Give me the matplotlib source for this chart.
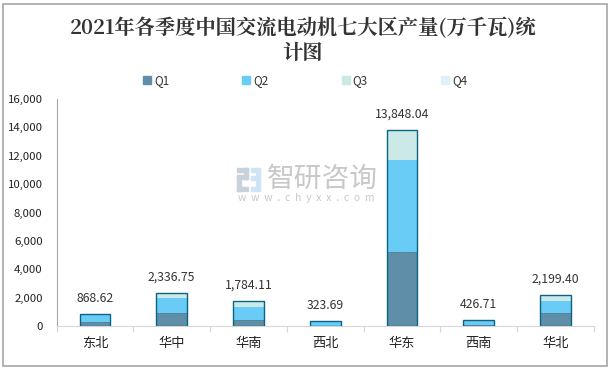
import matplotlib
matplotlib.use('Agg')
import matplotlib.pyplot as plt
from matplotlib.patches import Rectangle

plt.rcParams['font.family'] = ['Noto Sans CJK SC', 'DejaVu Sans']

regions = ['东北', '华中', '华南', '西北', '华东', '西南', '华北']
q1 = [305, 940, 447, 30, 5220, 40, 940]
q2 = [500, 1060, 916, 270, 6480, 340, 823]
q3 = [50, 330, 420, 20, 2100, 40, 430]
totals = [868.62, 2336.75, 1784.11, 323.69, 13848.04, 426.71, 2199.40]
q4 = [t - a - b - c for t, a, b, c in zip(totals, q1, q2, q3)]
yticks = [0, 2000, 4000, 6000, 8000, 10000, 12000, 14000, 16000]
quarters = ['Q1', 'Q2', 'Q3', 'Q4']
colors = ['#5f8fa8', '#69ccf7', '#cbe9e6', '#dff1fb']
W, H = 612, 371


def box(fig, x0, y0, w, h, **kw):
    # rectangle given in image pixels, y measured from the top
    fig.add_artist(Rectangle((x0 / W, 1 - (y0 + h) / H), w / W, h / H, transform=fig.transFigure, **kw))


def main():
    fig = plt.figure(figsize=(W / 100, H / 100), dpi=100)
    ax = fig.add_axes([56.5 / W, 1 - 326 / H, (594 - 56.5) / W, 227 / H])

    x = range(len(regions))
    bottom = [0] * len(regions)
    for vals, c in zip([q1, q2, q3, q4], colors):
        ax.bar(x, vals, 0.4, bottom=bottom, color=c, linewidth=0, zorder=2)
        bottom = [b + v for b, v in zip(bottom, vals)]
    ax.bar(x, q1, 0.4, fill=False, edgecolor='#4a7187', linewidth=0.6, linestyle=':', zorder=2.5)
    ax.bar(x, totals, 0.4, fill=False, edgecolor='#0b6384', linewidth=1.0, zorder=3)

    for i, t in enumerate(totals):
        ax.annotate(f'{t:,.2f}', (i, t), xytext=(0, 9), textcoords='offset pixels',
                    ha='center', va='bottom', fontsize=8.8, color='#333333')

    ax.set_xlim(-0.5, 6.5)
    ax.set_ylim(0, 16000)
    ax.set_yticks(yticks)
    ax.set_yticklabels([f'{v:,}' for v in yticks], fontsize=8.2, color='#222222')
    ax.set_xticks([i - 0.5 for i in range(8)], minor=False)
    ax.set_xticklabels([])
    ax.set_xticks(list(x), minor=True)
    ax.set_xticklabels(regions, minor=True, fontsize=9.5, color='#222222')
    ax.tick_params(axis='x', which='major', length=4, color='#d6d6d6', direction='out')
    ax.tick_params(axis='x', which='minor', length=0, pad=8)
    ax.tick_params(axis='y', length=0, pad=10)
    for s in ['top', 'right']:
        ax.spines[s].set_visible(False)
    ax.spines['left'].set_color('#a6a6a6')
    ax.spines['bottom'].set_color('#d6d6d6')

    # title and legend sit in figure pixels
    serif = ['Noto Serif CJK SC', 'Noto Sans CJK SC', 'DejaVu Sans']
    fig.text(303 / W, 1 - 28 / H, '2021年各季度中国交流电动机七大区产量(万千瓦)统', ha='center', va='center',
             fontsize=14.6, fontweight='bold', color='#333333', family=serif)
    fig.text(303 / W, 1 - 53 / H, '计图', ha='center', va='center',
             fontsize=14.6, fontweight='bold', color='#333333', family=serif)
    for i, (q, c) in enumerate(zip(quarters, colors)):
        sx = 143 + i * 99.3
        box(fig, sx, 76, 8, 8, color=c)
        fig.text((sx + 11) / W, 1 - 80.5 / H, q, ha='left', va='center', fontsize=8.5, color='#333333')

    # watermark
    fig.text(322 / W, 1 - 179 / H, '智研咨询', ha='center', va='center', fontsize=20, color='#c8c8c8', zorder=5)
    fig.text(306 / W, 1 - 198 / H, 'w  w  w  .  c  h  y  x  x  .  c  o  m', ha='center', va='center', fontsize=7.5,
             color='#c8c8c8', zorder=5)
    for r in [(237, 168, 11, 4), (244, 168, 4, 11), (237, 175, 11, 4), (237, 175, 4, 16), (237, 187, 11, 4)]:
        box(fig, *r, color='#c9d2da', zorder=5)
    for r in [(251, 168, 9, 4), (256, 168, 4, 19), (251, 176, 4, 4), (251, 187, 9, 4)]:
        box(fig, *r, color='#cfe4f4', zorder=5)

    # outer border
    box(fig, 3.5, 4, 603.5, 362, fill=False, edgecolor='#a6a6a6', linewidth=1.2)
    fig.savefig('out.png', dpi=100)


if __name__ == '__main__':
    main()
